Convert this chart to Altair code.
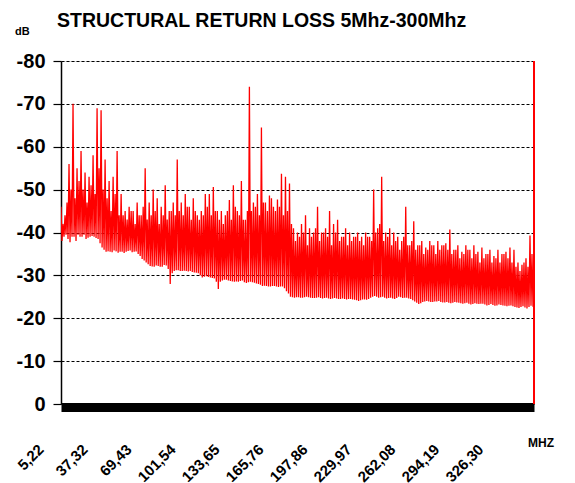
import altair as alt
import pandas as pd

TITLE = "STRUCTURAL RETURN LOSS 5Mhz-300Mhz"
Y_UNIT = "dB"
X_UNIT = "MHZ"

# frequency sweep (MHz): start and step of the measurement grid
FREQ_START = 5.22
FREQ_STEP = 0.7314

X_TICKS = [5.22, 37.32, 69.43, 101.54, 133.65, 165.76, 197.86, 229.97, 262.08, 294.19, 326.30]
X_LABELS = ["5,22", "37,32", "69,43", "101,54", "133,65", "165,76", "197,86", "229,97", "262,08", "294,19", "326,30"]
Y_TICKS = [0, -10, -20, -30, -40, -50, -60, -70, -80]

# return loss (dB): main peaks, troughs, secondary peaks, troughs
PEAKS = [
    -46, -44, -56, -70, -55, -59, -54, -53, -58, -69,
    -68.5, -57, -52, -53, -59, -49, -45, -46, -45, -47,
    -44, -55, -47, -50, -48, -46, -51, -45, -47, -57,
    -47, -49, -46, -48, -44, -45, -49, -49, -50.6, -45,
    -45, -44, -47.6, -51, -45, -52, -43, -74, -47, -49,
    -64.5, -47, -48.6, -46, -47.7, -53.7, -53, -51.4, -41, -40,
    -42, -44, -41, -40, -46, -40, -41, -45, -42, -43,
    -39, -41, -40, -39, -40, -39, -40, -39, -50, -41,
    -53, -40, -41, -40, -39, -38, -46, -37, -42.6, -37,
    -38, -36.5, -38, -37, -38, -37, -37.5, -40.7, -36, -37,
    -35.5, -37, -36, -37, -35.5, -36.5, -35, -36, -34.5, -36,
    -35, -35.5, -36.5, -36, -33, -32.5, -34, -39.3, -36.5,
]
TROUGHS = [
    -38, -39.5, -37.7, -39, -39.5, -39, -38.5, -39, -39, -38.5,
    -36.5, -35.5, -35.5, -35.8, -35.3, -35.5, -35.5, -35.8, -35.5, -35,
    -33.8, -33, -32.2, -32, -32.2, -32, -32.3, -28, -31, -31.2,
    -31, -31, -31, -30.7, -30.5, -29.5, -29.8, -29.5, -29.3, -26.8,
    -28.8, -29, -28.7, -28.5, -28.5, -28.8, -28.2, -28.5, -28.3, -28,
    -27.5, -27.5, -27.4, -27.5, -27.3, -27.4, -26.3, -25, -24.8, -24.9,
    -24.8, -25, -24.8, -24.7, -24.9, -24.6, -24.8, -24.5, -24.7, -24.5,
    -24.6, -24.4, -24.5, -24.3, -24.0, -24.4, -24.3, -24.8, -25.2, -24.8,
    -25, -24.6, -24.8, -24.5, -25, -24.7, -24.8, -24.5, -23.9, -23.3,
    -23.8, -24, -23.8, -23.9, -24, -23.7, -23.8, -23.5, -23.8, -23.6,
    -23.4, -23.6, -23.2, -23.5, -23.3, -23.4, -23, -23.3, -22.9, -23.2,
    -23, -22.8, -23, -22.6, -22.4, -22.8, -22.3, -22.9,
]
PEAKS2 = [
    -42, -47, -50, -48, -52, -50, -47, -51, -49, -55,
    -50, -48, -45, -49, -44,
    -44, -43, -45, -42, -44, -46, -43, -44, -45, -42,
    -44, -43, -45, -44,
    -45, -44, -46, -43, -45, -43, -44, -46, -44, -45,
    -43, -42, -45, -43, -46, -44, -43, -45,
    -45, -46, -44, -47, -45, -48, -45, -46, -44, -45, -42,
    -38, -39, -40, -37, -39, -41, -38, -40, -39, -37,
    -40, -38, -39, -37, -38, -39, -38, -37, -39, -38,
    -40, -42, -38, -39, -37, -38, -36, -39, -37, -38,
    -36, -37, -35, -36, -37, -35, -36, -37, -36,
    -35, -36, -34, -35, -36, -34, -35, -33, -34, -35,
    -33, -34, -33, -35, -34, -33, -32, -31, -33, -32, -35,
]
TROUGHS2 = [
    -39, -38.5, -39, -38, -39, -39.5, -38.8, -39.2, -38.7, -37.5,
    -36, -35.6, -35.4, -35.6, -35.5, -35.2, -35.7, -35.4, -35.6, -34.5,
    -33.5, -32.6, -32.1, -32.3, -32.0, -32.4, -31.5, -30.5, -31.2, -31.0,
    -31.1, -30.9, -30.8, -30.6, -30.0, -29.7, -29.6, -29.4, -28.5, -28.5,
    -29.0, -28.8, -28.6, -28.6, -28.7, -28.4, -28.4, -28.4, -28.1, -27.8,
    -27.6, -27.4, -27.5, -27.4, -27.4, -27.0, -25.8, -24.9, -24.9, -24.8,
    -24.9, -24.9, -24.7, -24.8, -24.7, -24.7, -24.6, -24.6, -24.6, -24.5,
    -24.5, -24.5, -24.4, -24.2, -24.2, -24.4, -24.5, -25.0, -25.0, -24.9,
    -24.8, -24.7, -24.6, -24.7, -24.9, -24.8, -24.6, -24.2, -23.6, -23.5,
    -23.9, -23.9, -23.8, -23.9, -23.8, -23.7, -23.6, -23.6, -23.7, -23.5,
    -23.5, -23.4, -23.3, -23.4, -23.4, -23.2, -23.1, -23.1, -23.0, -23.1,
    -22.9, -22.9, -22.8, -22.5, -22.6, -22.5, -22.6, -22.7,
]

vals = []
for i in range(len(TROUGHS)):
    vals += [PEAKS[i], TROUGHS[i], PEAKS2[i], TROUGHS2[i]]
vals.append(PEAKS[-1])
freqs = [FREQ_START + i * FREQ_STEP for i in range(len(vals))]
df = pd.DataFrame({"f": freqs, "db": vals})
lab_df = pd.DataFrame({"f": X_TICKS, "lab": X_LABELS})

W, H = 473, 343
FONT = "Liberation Sans"

x_scale = alt.Scale(domain=[freqs[0], freqs[-1]], nice=False, zero=False)
x_enc = alt.X(
    "f:Q",
    scale=x_scale,
    axis=alt.Axis(
        values=X_TICKS, title=None, grid=False, ticks=False, labels=False,
        domainColor="black", domainWidth=9, offset=3,
    ),
)
y_enc = alt.Y(
    "db:Q",
    scale=alt.Scale(domain=[-80, 0], reverse=True, nice=False, zero=False),
    axis=alt.Axis(
        values=Y_TICKS, title=None, grid=True,
        gridColor="black", gridDash=[3, 2], gridWidth=1.2,
        domainColor="black", domainWidth=1.5,
        tickColor="black", tickSize=8, tickWidth=1.2,
        labelExpr="'' + datum.value",
        labelFont=FONT, labelFontWeight="bold", labelFontSize=20,
        labelColor="black", labelPadding=8,
    ),
)

line = alt.Chart(df).mark_line(color="#FF0000", strokeWidth=1.3, clip=True).encode(x=x_enc, y=y_enc)

xlabels = alt.Chart(lab_df).mark_text(
    font=FONT, fontWeight="bold", fontSize=15, angle=315, align="right", baseline="middle",
    color="black", dx=-14.1, dy=-14.1,
).encode(x=alt.X("f:Q", scale=x_scale), y=alt.value(386), text="lab:N")

edge = alt.Chart(pd.DataFrame({"a": [0]})).mark_rule(color="#FF0000", strokeWidth=2).encode(
    x=alt.value(W), y=alt.value(0), y2=alt.value(H)
)

title = alt.Chart(pd.DataFrame({"t": [TITLE]})).mark_text(
    font=FONT, fontWeight="bold", fontSize=19.5, align="left", baseline="alphabetic", color="black"
).encode(x=alt.value(-4), y=alt.value(-34), text="t:N")

yunit = alt.Chart(pd.DataFrame({"t": [Y_UNIT]})).mark_text(
    font=FONT, fontWeight="bold", fontSize=11, align="left", baseline="alphabetic", color="black"
).encode(x=alt.value(-46), y=alt.value(-26), text="t:N")

xunit = alt.Chart(pd.DataFrame({"t": [X_UNIT]})).mark_text(
    font=FONT, fontWeight="bold", fontSize=12, align="left", baseline="alphabetic", color="black"
).encode(x=alt.value(467), y=alt.value(386), text="t:N")

chart = alt.layer(line, xlabels, edge, title, yunit, xunit).properties(
    width=W, height=H,
    autosize=alt.AutoSizeParams(type="none"),
    padding={"left": 53, "top": 53, "right": 30, "bottom": 80},
).configure_view(stroke=None).configure(background="white")

chart.save("out.html", embed_options={"renderer": "svg", "actions": False})
